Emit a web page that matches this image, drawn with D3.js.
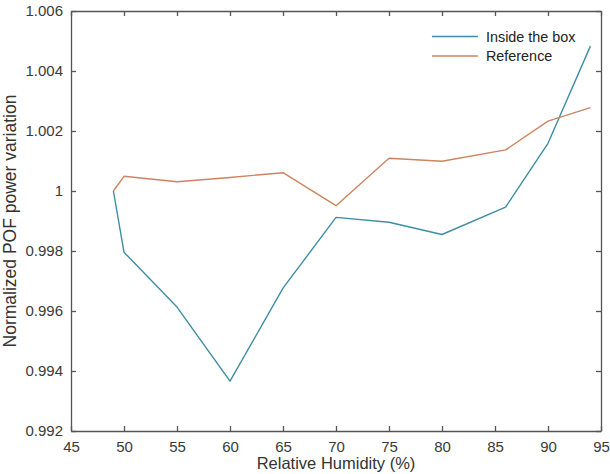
<!DOCTYPE html>
<html>
<head>
<meta charset="utf-8">
<script src="https://cdn.jsdelivr.net/npm/d3@7"></script>
<style>
    body { margin: 0; background: #fff; }
    svg { display: block; font-family: 'Liberation Sans', Arial, sans-serif; }
</style>
</head>
<body>
<div id="plot"></div>
<script>
// relative humidity (%)
let humidity = [49, 50, 55, 60, 65, 70, 75, 80, 86, 90, 94];
let insideBox = [1.0000, 0.99796, 0.99613, 0.99366, 0.99676, 0.99912, 0.99896, 0.99855, 0.99946, 1.00159, 1.00483];
let reference = [1.0000, 1.00049, 1.00031, 1.00045, 1.00061, 0.99951, 1.00109, 1.00099, 1.00137, 1.00233, 1.00278];
let xTicks = [45, 50, 55, 60, 65, 70, 75, 80, 85, 90, 95];
let yTicks = [0.992, 0.994, 0.996, 0.998, 1, 1.002, 1.004, 1.006];
let seriesNames = ['Inside the box', 'Reference'];
let seriesColors = ['#3e8ea3', '#cc8462'];

let svgWidth = 610;
let svgHeight = 474;
let margin = {top: 11, right: 9, bottom: 43, left: 71};
let width = svgWidth - margin.left - margin.right;
let height = svgHeight - margin.top - margin.bottom;

let svg = d3.select('#plot')
    .append('svg')
    .attr('width', svgWidth)
    .attr('height', svgHeight);

let chart = svg.append('g')
    .attr('transform', 'translate(' + margin.left + ', ' + margin.top + ')');

let xs = d3.scaleLinear().domain([45, 95]).range([0, width]);
let ys = d3.scaleLinear().domain([0.992, 1.006]).range([height, 0]);

let axisColor = '#555';
let tickFmt = d => d === 1 ? '1' : d3.format('.3f')(d);

// axes with inward ticks (box style)
let xAxis = d3.axisBottom(xs).tickValues(xTicks).tickSizeInner(-5).tickSizeOuter(0).tickPadding(10);
let yAxis = d3.axisLeft(ys).tickValues(yTicks).tickSizeInner(-5).tickSizeOuter(0).tickPadding(8).tickFormat(tickFmt);
let xTop = d3.axisTop(xs).tickValues(xTicks).tickSizeInner(-5).tickSizeOuter(0).tickFormat('');
let yRight = d3.axisRight(ys).tickValues(yTicks).tickSizeInner(-5).tickSizeOuter(0).tickFormat('');

let gx = chart.append('g').attr('transform', 'translate(0, ' + height + ')').call(xAxis);
let gy = chart.append('g').call(yAxis);
let gxt = chart.append('g').call(xTop);
let gyr = chart.append('g').attr('transform', 'translate(' + width + ', 0)').call(yRight);

[gx, gy, gxt, gyr].forEach(g => {
    g.selectAll('path, line').style('stroke', axisColor).style('stroke-width', '1.3px');
    g.selectAll('text').style('font-size', '15px').style('fill', '#3a3a3a').style('font-family', "'Liberation Sans', Arial, sans-serif");
});

// lines
let line = d3.line()
    .x((d, i) => xs(humidity[i]))
    .y(d => ys(d));

[insideBox, reference].forEach((s, k) => {
    chart.append('path')
        .datum(s)
        .attr('d', line)
        .style('fill', 'none')
        .style('stroke', seriesColors[k])
        .style('stroke-width', '1.4px')
        .style('stroke-linejoin', 'round');
});

// legend
let legend = chart.selectAll('.legend')
    .data(seriesNames)
    .enter()
    .append('g')
    .attr('class', 'legend')
    .attr('transform', (d, i) => 'translate(' + xs(79.05) + ', ' + (ys(1.00515) + i * 19.5) + ')');

legend.append('line')
    .attr('x1', 0)
    .attr('x2', 46)
    .style('stroke', (d, i) => seriesColors[i])
    .style('stroke-width', '1.4px');

legend.append('text')
    .attr('x', 54)
    .attr('y', 5)
    .style('font-size', '14.4px')
    .style('fill', '#222')
    .text(d => d);

// axis titles
svg.append('text')
    .attr('x', margin.left + width / 2)
    .attr('y', 469)
    .style('text-anchor', 'middle')
    .style('font-size', '16.5px')
    .style('fill', '#333')
    .text('Relative Humidity (%)');

svg.append('text')
    .attr('transform', 'rotate(-90)')
    .attr('x', -(margin.top + height / 2))
    .attr('y', 16)
    .style('text-anchor', 'middle')
    .style('font-size', '17.5px')
    .style('fill', '#333')
    .text('Normalized POF power variation');
</script>
</body>
</html>
